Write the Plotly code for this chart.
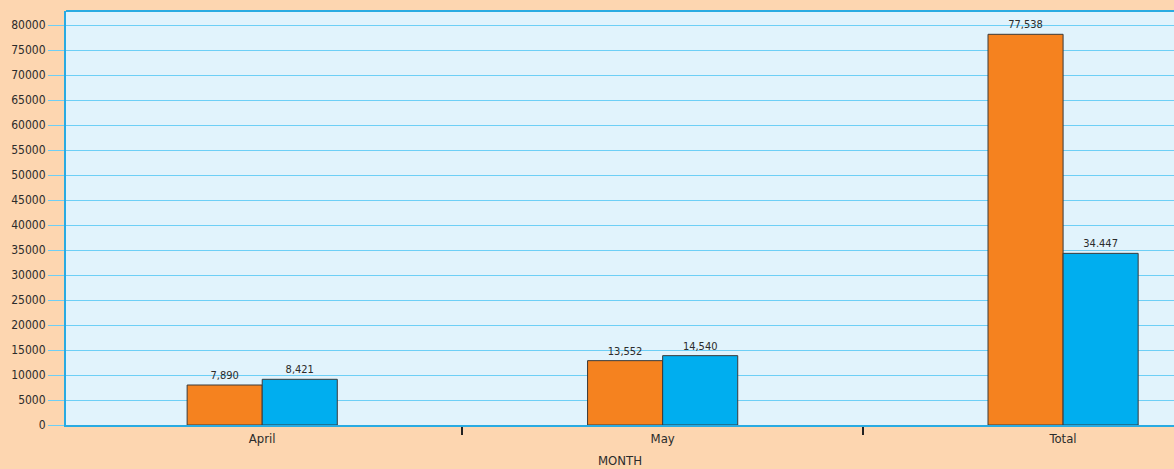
import plotly.graph_objects as go

categories = ["April", "May", "Total"]
# bar heights as drawn in the picture
series_a_values = [8000, 12870, 78140]
series_b_values = [9140, 13870, 34330]
# value labels printed above the bars
series_a_labels = ["7,890", "13,552", "77,538"]
series_b_labels = ["8,421", "14,540", "34.447"]
y_tick_values = list(range(0, 80001, 5000))
y_tick_labels = [str(v) for v in y_tick_values]

FONT = "Liberation Sans Narrow, DejaVu Sans Condensed, Arial Narrow, sans-serif"
TEXT = "#2b2b2b"
PAPER = "#FDD6B0"

fig = go.Figure()
fig.add_trace(go.Bar(
    x=categories, y=series_a_values, text=series_a_labels,
    textposition="outside", cliponaxis=False,
    textfont=dict(family=FONT, size=11, color=TEXT),
    marker=dict(color="#F5821F", line=dict(color="#3a3a3a", width=1)),
    name="A",
))
fig.add_trace(go.Bar(
    x=categories, y=series_b_values, text=series_b_labels,
    textposition="outside", cliponaxis=False,
    textfont=dict(family=FONT, size=11, color=TEXT),
    marker=dict(color="#00AEEF", line=dict(color="#3a3a3a", width=1)),
    name="B",
))

fig.update_layout(
    width=1174, height=469,
    margin=dict(l=66, r=0, t=11, b=44),
    paper_bgcolor=PAPER,
    plot_bgcolor="#E1F3FC",
    showlegend=False,
    barmode="group",
    bargap=0.625,
    bargroupgap=0,
    font=dict(family=FONT, size=13, color=TEXT),
    xaxis=dict(
        type="category",
        range=[-0.49, 2.277],
        automargin=False,
        tickson="boundaries",
        ticks="outside", ticklen=8, tickwidth=2, tickcolor="#222222",
        showgrid=False,
        showline=True, linecolor="#29ABE2", linewidth=2,
        tickfont=dict(family=FONT, size=13, color=TEXT),
        title=dict(text="MONTH", font=dict(family=FONT, size=13, color=TEXT), standoff=11),
        zeroline=False,
    ),
    yaxis=dict(
        range=[0, 82800],
        automargin=False,
        tickvals=y_tick_values, ticktext=y_tick_labels,
        ticks="outside", ticklen=16, tickwidth=1, tickcolor="#6DCFF6",
        showgrid=True, gridcolor="#6DCFF6", gridwidth=1,
        showline=True, linecolor="#29ABE2", linewidth=2,
        tickfont=dict(family=FONT, size=12, color=TEXT),
        zeroline=False,
    ),
)
# top border of plot area
fig.add_shape(type="line", xref="paper", yref="paper", x0=0, x1=1, y0=1, y1=1,
              line=dict(color="#29ABE2", width=2))

page_css = ("document.body.style.margin='0';"
            "document.body.style.background='" + PAPER + "';"
            "document.body.style.overflow='hidden';")

fig.write_html("out.html", post_script=page_css, config={"displayModeBar": False})
